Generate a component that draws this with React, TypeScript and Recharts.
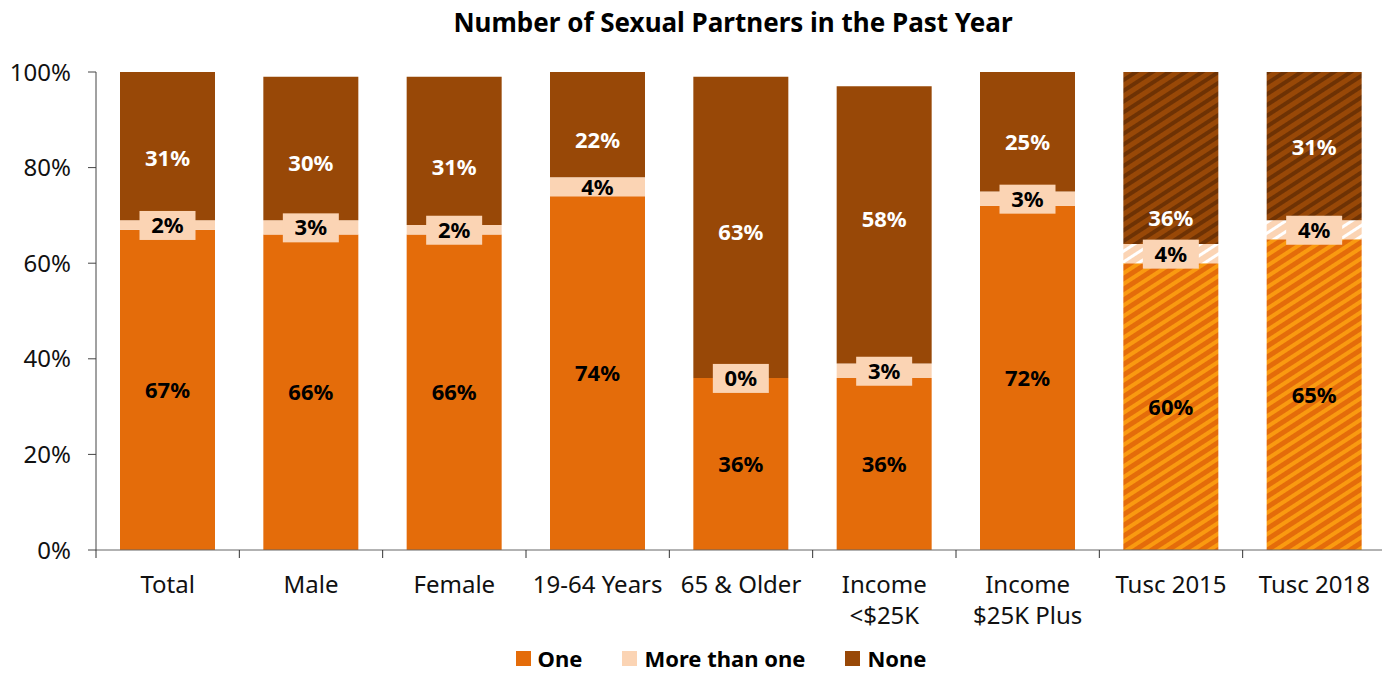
import React from "react";
import { BarChart, Bar, XAxis, YAxis, Cell, LabelList, Legend } from "recharts";

const categories = [
  "Total",
  "Male",
  "Female",
  "19-64 Years",
  "65 & Older",
  "Income\n<$25K",
  "Income\n$25K Plus",
  "Tusc 2015",
  "Tusc 2018",
];
const one = [67, 66, 66, 74, 36, 36, 72, 60, 65];
const moreThanOne = [2, 3, 2, 4, 0, 3, 3, 4, 4];
const none = [31, 30, 31, 22, 63, 58, 25, 36, 31];
const yTicks = [0, 20, 40, 60, 80, 100];

// label nudges (px) for the "None" labels, as placed in the original
const noneLabelShift = [12, 15, 16, 15, 5, -6, 10, 60, 1];

const FONT = "'Noto Sans', 'Open Sans', sans-serif";
const COLORS = { one: "#E46C0A", more: "#FBD4B4", none: "#984807" };

const data = categories.map((name, i) => ({
  name,
  one: one[i],
  more: moreThanOne[i],
  none: none[i],
}));

const isHatched = (name: string) => name.startsWith("Tusc");
const STEP = 1290 / categories.length;

function XTick(props: any) {
  const { x, y, payload, index } = props;
  const lines = String(payload.value).split("\n");
  return (
    <g>
      <line x1={x - STEP / 2} y1={y} x2={x - STEP / 2} y2={y + 8} stroke="#333" />
      {index === categories.length - 1 && (
        <line x1={x + STEP / 2} y1={y} x2={x + STEP / 2} y2={y + 8} stroke="#333" />
      )}
      <text x={x} y={y} textAnchor="middle" fontSize={24} fontFamily={FONT} fill="#111">
        {lines.map((l, i) => (
          <tspan key={i} x={x} dy={i === 0 ? 43 : 31}>
            {l}
          </tspan>
        ))}
      </text>
    </g>
  );
}

const labelText = (cx: number, cy: number, value: number, color: string) => (
  <text
    x={cx}
    y={cy}
    dy={8}
    textAnchor="middle"
    fontSize={22}
    fontWeight="bold"
    fontFamily={FONT}
    fill={color}
  >
    {value}%
  </text>
);

const oneLabel = (props: any) => {
  const { x, y, width, height, value } = props;
  return labelText(x + width / 2, y + height / 2, value, "#000");
};

// drawn with the top segment so the "More than one" boxes sit above every bar
const noneAndMoreLabel = (props: any) => {
  const { x, y, width, height, value, index } = props;
  const cx = x + width / 2;
  const perUnit = height / none[index];
  const moreCy = y + height + (moreThanOne[index] * perUnit) / 2;
  return (
    <g>
      {labelText(cx, y + height / 2 + noneLabelShift[index], value, "#fff")}
      {index !== 3 && (
        <rect x={cx - 28} y={moreCy - 14} width={56} height={29} fill={COLORS.more} />
      )}
      {labelText(cx, moreCy, moreThanOne[index], "#000")}
    </g>
  );
};

const legendItems = [
  { label: "One", color: COLORS.one },
  { label: "More than one", color: COLORS.more },
  { label: "None", color: COLORS.none },
];

function LegendContent() {
  return (
    <div style={{ display: "flex", justifyContent: "center", gap: 40, paddingLeft: 44 }}>
      {legendItems.map((it) => (
        <div key={it.label} style={{ display: "flex", alignItems: "center", gap: 7 }}>
          <span style={{ width: 15, height: 15, background: it.color, display: "inline-block" }} />
          <span style={{ fontSize: 22, lineHeight: "22px", fontWeight: "bold", fontFamily: FONT, color: "#000" }}>
            {it.label}
          </span>
        </div>
      ))}
    </div>
  );
}

export default function App() {
  return (
    <div style={{ position: "relative", width: 1382, height: 666 }}>
      <div
        style={{
          position: "absolute",
          top: 0,
          left: 0,
          width: 1450,
          height: 28,
          lineHeight: "28px",
          textAlign: "center",
          fontFamily: FONT,
          fontWeight: "bold",
          fontSize: 26,
          color: "#000",
        }}
      >
        Number of Sexual Partners in the Past Year
      </div>
      <BarChart
        width={1382}
        height={666}
        data={data}
        margin={{ top: 64, right: 4, bottom: 44, left: 0 }}
      >
        <defs>
          <pattern id="hatchOne" width="9" height="9" patternUnits="userSpaceOnUse" patternTransform="rotate(57)">
            <rect width="9" height="9" fill={COLORS.one} />
            <rect width="4" height="9" fill="#FA9A10" />
          </pattern>
          <pattern id="hatchMore" width="9" height="9" patternUnits="userSpaceOnUse" patternTransform="rotate(57)">
            <rect width="9" height="9" fill={COLORS.more} />
            <rect width="3" height="9" fill="#FFFFFF" />
          </pattern>
          <pattern id="hatchNone" width="9" height="9" patternUnits="userSpaceOnUse" patternTransform="rotate(57)">
            <rect width="9" height="9" fill={COLORS.none} />
            <rect width="4" height="9" fill="#6E3204" />
          </pattern>
        </defs>
        <XAxis
          dataKey="name"
          height={80}
          tickLine={false}
          tickSize={0}
          tickMargin={0}
          interval={0}
          stroke="#666"
          tick={<XTick />}
        />
        <YAxis
          width={88}
          domain={[0, 100]}
          ticks={yTicks}
          tickFormatter={(v) => `${v}%`}
          tickSize={8}
          tickMargin={17}
          stroke="#444"
          tick={{ fontSize: 24, fontFamily: FONT, fill: "#111" }}
        />
        <Legend
          verticalAlign="middle"
          align="center"
          layout="horizontal"
          wrapperStyle={{ top: 639, left: 0, width: 1382 }}
          content={<LegendContent />}
        />
        <Bar dataKey="one" stackId="a" barSize={95} fill={COLORS.one} isAnimationActive={false}>
          {data.map((d) => (
            <Cell key={d.name} fill={isHatched(d.name) ? "url(#hatchOne)" : COLORS.one} />
          ))}
          <LabelList dataKey="one" content={oneLabel} />
        </Bar>
        <Bar dataKey="more" stackId="a" barSize={95} fill={COLORS.more} isAnimationActive={false}>
          {data.map((d) => (
            <Cell key={d.name} fill={isHatched(d.name) ? "url(#hatchMore)" : COLORS.more} />
          ))}
        </Bar>
        <Bar dataKey="none" stackId="a" barSize={95} fill={COLORS.none} isAnimationActive={false}>
          {data.map((d) => (
            <Cell key={d.name} fill={isHatched(d.name) ? "url(#hatchNone)" : COLORS.none} />
          ))}
          <LabelList dataKey="none" content={noneAndMoreLabel} />
        </Bar>
      </BarChart>
    </div>
  );
}
